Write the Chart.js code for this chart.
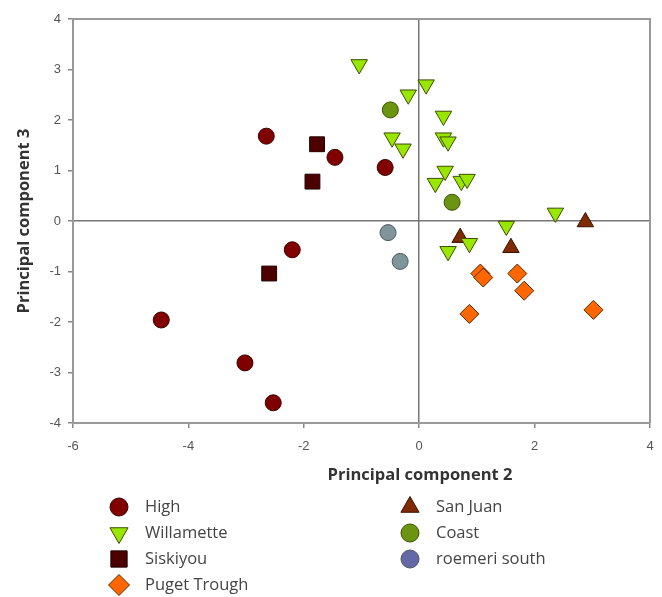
<!DOCTYPE html>
<html>
<head>
<meta charset="utf-8">
<script src="https://cdn.jsdelivr.net/npm/chart.js"></script>
<style>
  body { margin: 0; background: #fff; }
</style>
</head>
<body>
<canvas id="grafico" width="662" height="597"></canvas>
<script>
// pontos: [PC2, PC3]
const high = [[-2.65, 1.68], [-1.46, 1.26], [-0.59, 1.06], [-2.2, -0.57], [-4.47, -1.96], [-3.02, -2.81], [-2.53, -3.6]];
const willamette = [[-1.04, 3.1], [0.12, 2.7], [-0.19, 2.5], [0.42, 2.08], [-0.47, 1.65], [-0.28, 1.43], [0.42, 1.65],
  [0.5, 1.57], [0.45, 0.99], [0.28, 0.75], [0.73, 0.79], [0.83, 0.83], [2.36, 0.16], [1.51, -0.1], [0.87, -0.44], [0.5, -0.6]];
const siskiyou = [[-1.77, 1.52], [-1.85, 0.78], [-2.6, -1.04]];
const pugetTrough = [[1.06, -1.04], [1.11, -1.12], [1.7, -1.04], [1.82, -1.38], [0.87, -1.84], [3.02, -1.76]];
const sanJuan = [[2.88, -0.02], [0.71, -0.33], [1.59, -0.53]];
const coast = [[-0.5, 2.2], [0.57, 0.37]];
const roemeriSouth = [[-0.54, -0.23], [-0.33, -0.8]];

const xTicks = [-6, -4, -2, 0, 2, 4];
const yTicks = [-4, -3, -2, -1, 0, 1, 2, 3, 4];

const pts = arr => arr.map(p => ({ x: p[0], y: p[1] }));

const grupos = [
  { label: 'High', data: high, cor: '#800000', borda: '#3a0000', estilo: 'circle', r: 8, rot: 0, col: 0, lin: 0 },
  { label: 'Willamette', data: willamette, cor: '#99e600', borda: '#3d4d00', estilo: 'triangle', r: 9.5, rot: 180, col: 0, lin: 1 },
  { label: 'Siskiyou', data: siskiyou, cor: '#4d0000', borda: '#220000', estilo: 'rect', r: 10.5, rot: 0, col: 0, lin: 2 },
  { label: 'Puget Trough', data: pugetTrough, cor: '#ff6600', borda: '#5a2a00', estilo: 'rectRot', r: 9.5, rot: 0, col: 0, lin: 3 },
  { label: 'San Juan', data: sanJuan, cor: '#7f2a00', borda: '#3a1200', estilo: 'triangle', r: 9.5, rot: 0, col: 1, lin: 0 },
  { label: 'Coast', data: coast, cor: '#6b9410', borda: '#3a5000', estilo: 'circle', r: 8, rot: 0, col: 1, lin: 1 },
  { label: 'roemeri south', data: roemeriSouth, cor: '#80959a', borda: '#4a5a5e', estilo: 'circle', r: 8, rot: 0, col: 1, lin: 2, corLegenda: '#6468a6' }
];

// moldura, títulos dos eixos e legenda em duas colunas
const extras = {
  id: 'extras',
  afterDraw(chart) {
    const ctx = chart.ctx;
    const a = chart.chartArea;
    ctx.save();
    ctx.strokeStyle = '#999';
    ctx.lineWidth = 2;
    ctx.beginPath();
    ctx.moveTo(a.left, a.top);
    ctx.lineTo(a.right, a.top);
    ctx.lineTo(a.right, a.bottom);
    ctx.stroke();

    ctx.fillStyle = '#333';
    ctx.font = 'bold 16.5px "Open Sans"';
    ctx.textAlign = 'center';
    ctx.textBaseline = 'middle';
    ctx.fillText('Principal component 2', 420, 475);
    ctx.save();
    ctx.translate(24, 221);
    ctx.rotate(-Math.PI / 2);
    ctx.fillText('Principal component 3', 0, 0);
    ctx.restore();

    ctx.font = '16.5px "Open Sans"';
    ctx.textAlign = 'left';
    grupos.forEach(g => {
      const mx = g.col ? 410 : 119;
      const my = 507 + g.lin * 26;
      ctx.fillStyle = g.corLegenda || g.cor;
      ctx.strokeStyle = g.borda;
      ctx.lineWidth = 1;
      Chart.helpers.drawPoint(ctx, { pointStyle: g.estilo, radius: g.r + 1, rotation: g.rot, borderWidth: 1 }, mx, my);
      ctx.fillStyle = '#444';
      ctx.fillText(g.label, mx + 26, my);
    });
    ctx.restore();
  }
};

new Chart(document.getElementById('grafico'), {
  type: 'scatter',
  data: {
    datasets: grupos.map(g => ({
      label: g.label,
      data: pts(g.data),
      pointStyle: g.estilo,
      pointRadius: g.r,
      pointRotation: g.rot,
      backgroundColor: g.cor,
      borderColor: g.borda,
      borderWidth: 1
    }))
  },
  options: {
    responsive: false,
    animation: false,
    layout: { padding: { top: 19, right: 12, left: 0, bottom: 0 } },
    plugins: { legend: { display: false }, tooltip: { enabled: false } },
    scales: {
      x: {
        type: 'linear', min: -6, max: 4,
        afterBuildTicks: s => { s.ticks = xTicks.map(v => ({ value: v })); },
        afterFit: s => { s.height = 174; s.paddingRight = 0; s.paddingLeft = 0; },
        ticks: { color: '#555', font: { family: 'Liberation Sans', size: 13 }, padding: 11 },
        grid: { color: c => c.tick && c.tick.value === 0 ? '#777' : 'transparent', tickColor: '#888', tickLength: 5, lineWidth: 1.5 },
        border: { display: true, color: '#999', width: 2 }
      },
      y: {
        type: 'linear', min: -4, max: 4,
        afterBuildTicks: s => { s.ticks = yTicks.map(v => ({ value: v })); },
        afterFit: s => { s.width = 73; },
        ticks: { color: '#555', font: { family: 'Liberation Sans', size: 13 }, padding: 7 },
        grid: { color: c => c.tick && c.tick.value === 0 ? '#777' : 'transparent', tickColor: '#888', tickLength: 5, lineWidth: 1.5 },
        border: { display: true, color: '#999', width: 2 }
      }
    }
  },
  plugins: [extras]
});
</script>
</body>
</html>
